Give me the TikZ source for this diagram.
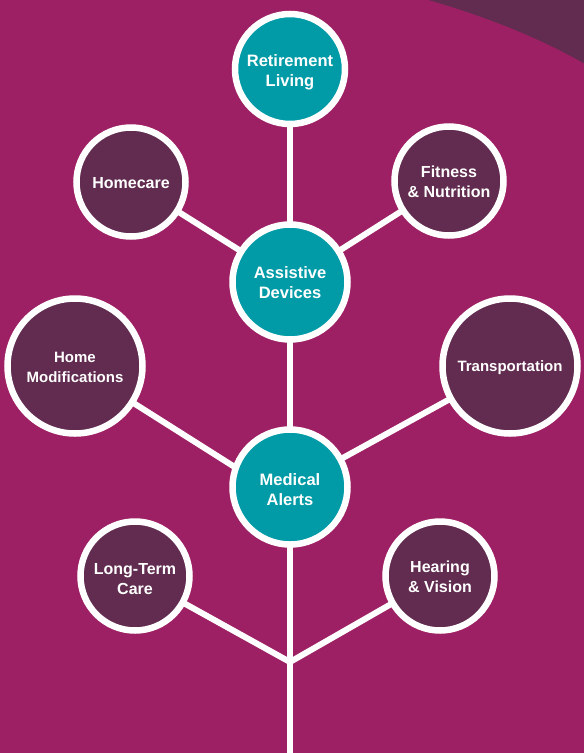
\documentclass[tikz,border=0pt]{standalone}
\usepackage{fontspec}
\setmainfont{Liberation Sans}
\usetikzlibrary{backgrounds}
\definecolor{bg}{HTML}{9E2064}
\definecolor{plum}{HTML}{612C4F}
\definecolor{tealc}{HTML}{009BA6}
\begin{document}
\begin{tikzpicture}[x=1pt,y=-1pt,
  bubble/.style={circle, draw=white, line width=6.5pt, inner sep=0pt, text=white, align=center},
  oneline/.style={execute at begin node={\rule{0pt}{14pt}}},
  twoline/.style={execute at begin node={\rule{0pt}{34pt}}},
  lowtext/.style={execute at begin node={\rule{0pt}{38pt}}},
  hub/.style={bubble, fill=tealc, minimum size=115pt, font=\bfseries\fontsize{16.5}{20}\selectfont},
  leaf/.style={bubble, fill=plum, minimum size=109pt, font=\bfseries\fontsize{16}{20}\selectfont},
  bigleaf/.style={bubble, fill=plum, minimum size=135pt, font=\bfseries\fontsize{15}{20}\selectfont},
  link/.style={draw=white, line width=6pt}]
\useasboundingbox (0,0) rectangle (584,753);
\node[hub, minimum size=110pt, lowtext] (ret) at (290,69) {Retirement\\Living};
\node[leaf, oneline] (home) at (131,182) {Homecare};
\node[leaf, twoline] (fit) at (449,181) {Fitness\\\& Nutrition};
\node[hub, twoline] (asd) at (290,282) {Assistive\\Devices};
\node[bigleaf, twoline] (hm) at (75,366) {Home\\Modifications};
\node[bigleaf, oneline] (tr) at (510,366) {Transportation};
\node[hub, lowtext] (med) at (290,487) {Medical\\Alerts};
\node[leaf, lowtext] (ltc) at (135,576) {Long-Term\\Care};
\node[leaf, twoline] (hv) at (440,576) {Hearing\\\& Vision};
\coordinate (j) at (290,662);
\coordinate (bot) at (290,760);
\begin{scope}[on background layer]
  \fill[bg] (0,0) rectangle (584,753);
  \fill[plum] (425,-1) .. controls (485,16) and (540,38) .. (585,64) -- (585,-1) -- cycle;
  \draw[link] (ret.center) -- (asd.center);
  \draw[link] (asd.center) -- (home.center);
  \draw[link] (asd.center) -- (fit.center);
  \draw[link] (asd.center) -- (med.center);
  \draw[link] (hm.center) -- ([yshift=-15pt]med.center);
  \draw[link] (tr.center) -- (med.center);
  \draw[link] (med.center) -- (bot);
  \draw[link] (ltc.center) -- (j) -- (hv.center);
\end{scope}
\end{tikzpicture}
\end{document}
